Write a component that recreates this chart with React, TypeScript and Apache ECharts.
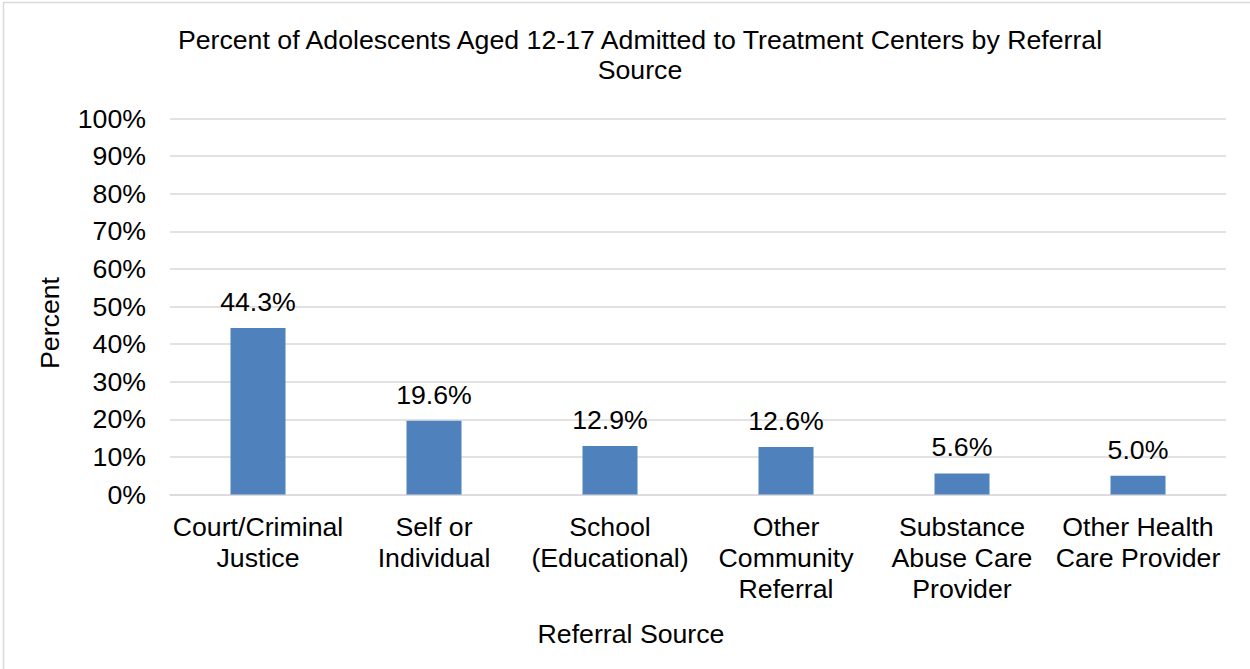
import React, { useEffect, useRef } from "react";
import * as echarts from "echarts";

const categories = [
  "Court/Criminal\nJustice",
  "Self or\nIndividual",
  "School\n(Educational)",
  "Other\nCommunity\nReferral",
  "Substance\nAbuse Care\nProvider",
  "Other Health\nCare Provider",
];
const values = [44.3, 19.6, 12.9, 12.6, 5.6, 5.0];
const yTicks = [0, 10, 20, 30, 40, 50, 60, 70, 80, 90, 100];

const titleText = "Percent of Adolescents Aged 12-17 Admitted to Treatment Centers by Referral\nSource";
const xName = "Referral Source";
const yName = "Percent";

const FONT = "'Liberation Sans', Arial, sans-serif";
const FS = 26.7;

export default function App() {
  const ref = useRef<HTMLDivElement>(null);
  useEffect(() => {
    if (!ref.current) return;
    const chart = echarts.init(ref.current, undefined, { renderer: "svg" });
    chart.setOption({
      animation: false,
      backgroundColor: "#ffffff",
      textStyle: { fontFamily: FONT },
      grid: { left: 170, right: 24, top: 118.5, bottom: 174.5, containLabel: false },
      xAxis: {
        type: "category",
        data: categories,
        axisLine: { show: true, lineStyle: { color: "#d9d9d9", width: 1.5 } },
        axisTick: { show: false },
        axisLabel: {
          color: "#000000",
          fontFamily: FONT,
          fontSize: FS,
          lineHeight: 31,
          margin: 17,
          interval: 0,
        },
      },
      yAxis: {
        type: "value",
        min: yTicks[0],
        max: yTicks[yTicks.length - 1],
        interval: 10,
        axisLine: { show: false },
        axisTick: { show: false },
        splitLine: { show: true, lineStyle: { color: "#d9d9d9", width: 1.5 } },
        axisLabel: {
          color: "#000000",
          fontFamily: FONT,
          fontSize: FS,
          margin: 24,
          formatter: (v: number) => `${v}%`,
        },
      },
      series: [
        {
          type: "bar",
          data: values,
          barWidth: 55,
          itemStyle: { color: "#4f81bd" },
          label: {
            show: true,
            position: "top",
            distance: 11,
            color: "#000000",
            fontFamily: FONT,
            fontSize: FS,
            lineHeight: 30,
            formatter: (p: any) => `${Number(p.value).toFixed(1)}%`,
          },
        },
      ],
      graphic: [
        {
          type: "rect",
          silent: true,
          shape: { x: 3.5, y: 2.5, width: 1400, height: 800 },
          style: { fill: "none", stroke: "#d9d9d9", lineWidth: 1.5 },
          z: 100,
        },
        {
          type: "text",
          x: 640,
          y: 55,
          style: {
            text: titleText,
            fontFamily: FONT,
            fontSize: FS,
            lineHeight: 30,
            fill: "#000000",
            align: "center",
            verticalAlign: "middle",
          },
        },
        {
          type: "text",
          x: 631,
          y: 634,
          style: {
            text: xName,
            fontFamily: FONT,
            fontSize: FS,
            fill: "#000000",
            align: "center",
            verticalAlign: "middle",
          },
        },
        {
          type: "text",
          x: 50,
          y: 323,
          rotation: Math.PI / 2,
          style: {
            text: yName,
            fontFamily: FONT,
            fontSize: FS,
            fill: "#000000",
            align: "center",
            verticalAlign: "middle",
          },
        },
      ],
    });
    return () => chart.dispose();
  }, []);
  return (
    <div
      ref={ref}
      style={{ position: "absolute", left: 0, top: 0, width: 1250, height: 669 }}
    />
  );
}
